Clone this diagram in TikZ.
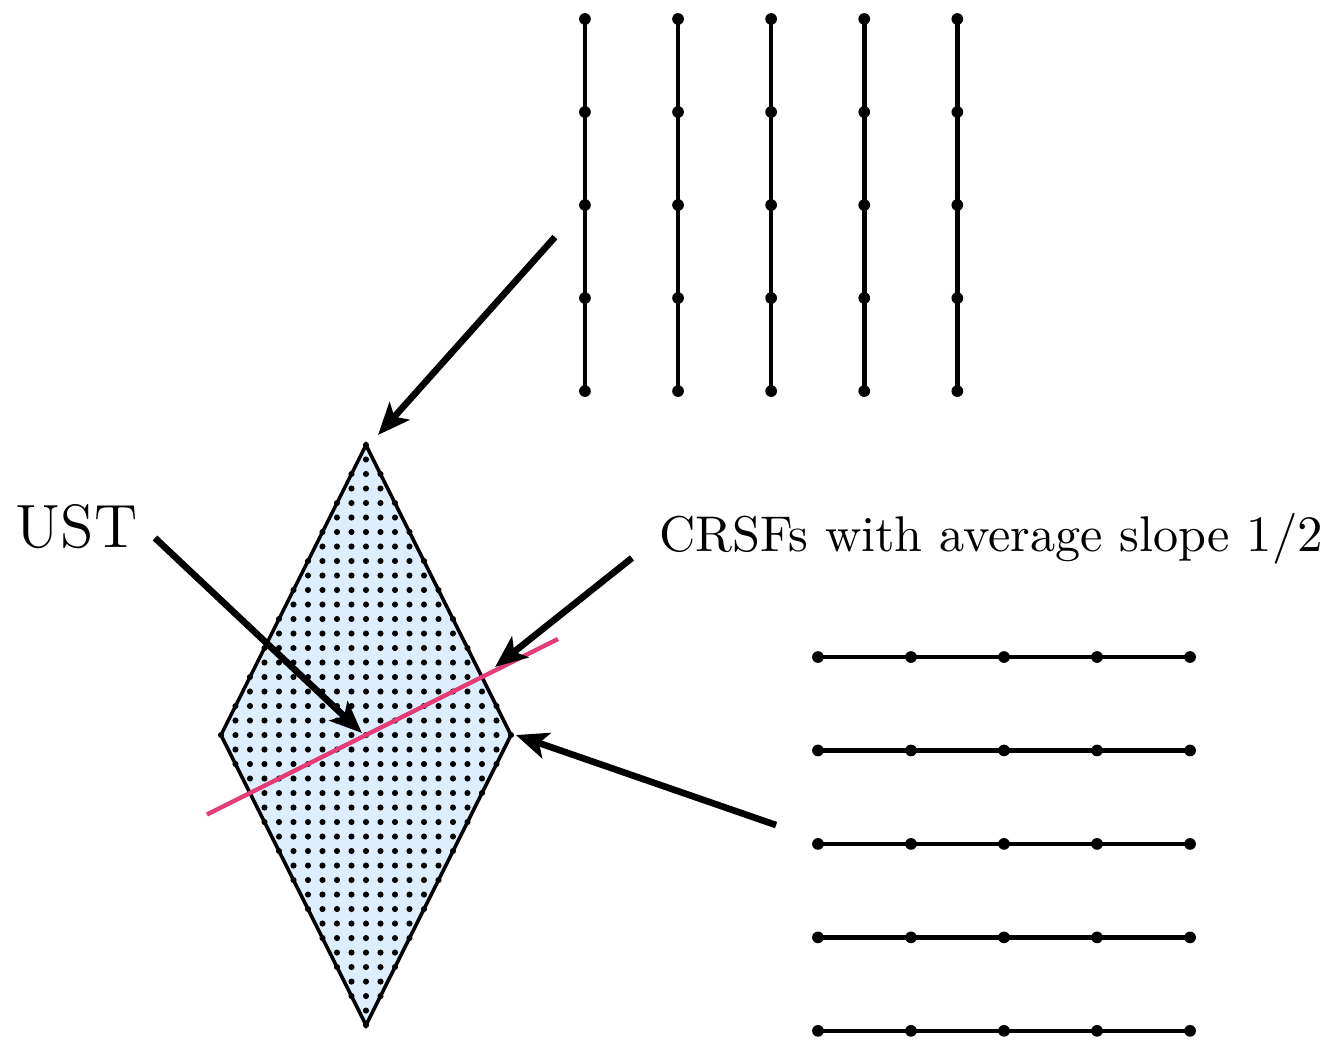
\documentclass[tikz,border=0pt]{standalone}
\usepackage{amsmath,amssymb}
\usepackage{tikz}
\usetikzlibrary{positioning,arrows.meta,calc}

\definecolor{rhombfill}{RGB}{221,238,255}
\definecolor{slopepink}{RGB}{228,60,120}

\begin{document}
\begin{tikzpicture}[label/.style={inner sep=0pt, anchor=base west},
    bigarrow/.style={line width=1.3pt, -{Stealth[length=6.3pt, width=5.2pt, inset=1.5pt]}},
    lattice/.style={line width=0.9pt}]
    \useasboundingbox (-2.524,-2.145) rectangle (6.655,5.069);

    % the rhombus with its lattice points
    \fill[rhombfill] (0,2) -- (1,0) -- (0,-2) -- (-1,0) -- cycle;
    \foreach \i in {-10,...,10}
      \foreach \j in {-20,...,20} {
        \pgfmathtruncatemacro\k{2*abs(\i)+abs(\j)}
        \ifnum\k<21 \fill (0.1*\i,0.1*\j) circle (0.6pt); \fi
      }
    \draw[line width=0.7pt] (0,2) -- (1,0) -- (0,-2) -- (-1,0) -- cycle;
    \draw[slopepink, line width=0.85pt] (-1.097,-0.5485) -- (1.324,0.662);

    % vertical paths
    \foreach \a in {0,...,4} {
      \draw[lattice] (1.51+0.642*\a,2.372) -- (1.51+0.642*\a,4.938);
      \foreach \b in {0,...,4}
        \fill (1.51+0.642*\a,2.372+0.6415*\b) circle (1.15pt);
    }
    % horizontal paths
    \foreach \b in {0,...,4} {
      \draw[lattice] (3.117,0.538-0.6445*\b) -- (5.683,0.538-0.6445*\b);
      \foreach \a in {0,...,4}
        \fill (3.117+0.6415*\a,0.538-0.6445*\b) circle (1.15pt);
    }

    \node[label] (ust) at (-2.421,1.29) {\large UST};
    \node[label] (crsf) at (2.014,1.269) {\fontsize{9.85}{12}\selectfont CRSFs with average slope $1/2$};

    \coordinate (vfrom) at (1.303,3.434);
    \coordinate (vto) at (0.083,2.069);
    \coordinate (ustfrom) at (-1.455,1.359);
    \coordinate (ustto) at (-0.028,0.014);
    \coordinate (crsffrom) at (1.834,1.221);
    \coordinate (crsfto) at (0.890,0.469);
    \coordinate (hfrom) at (2.828,-0.621);
    \coordinate (hto) at (1.034,0);

    \draw[bigarrow] (vfrom) -- (vto);
    \draw[bigarrow] (ustfrom) -- (ustto);
    \draw[bigarrow] (crsffrom) -- (crsfto);
    \draw[bigarrow] (hfrom) -- (hto);
\end{tikzpicture}
\end{document}
